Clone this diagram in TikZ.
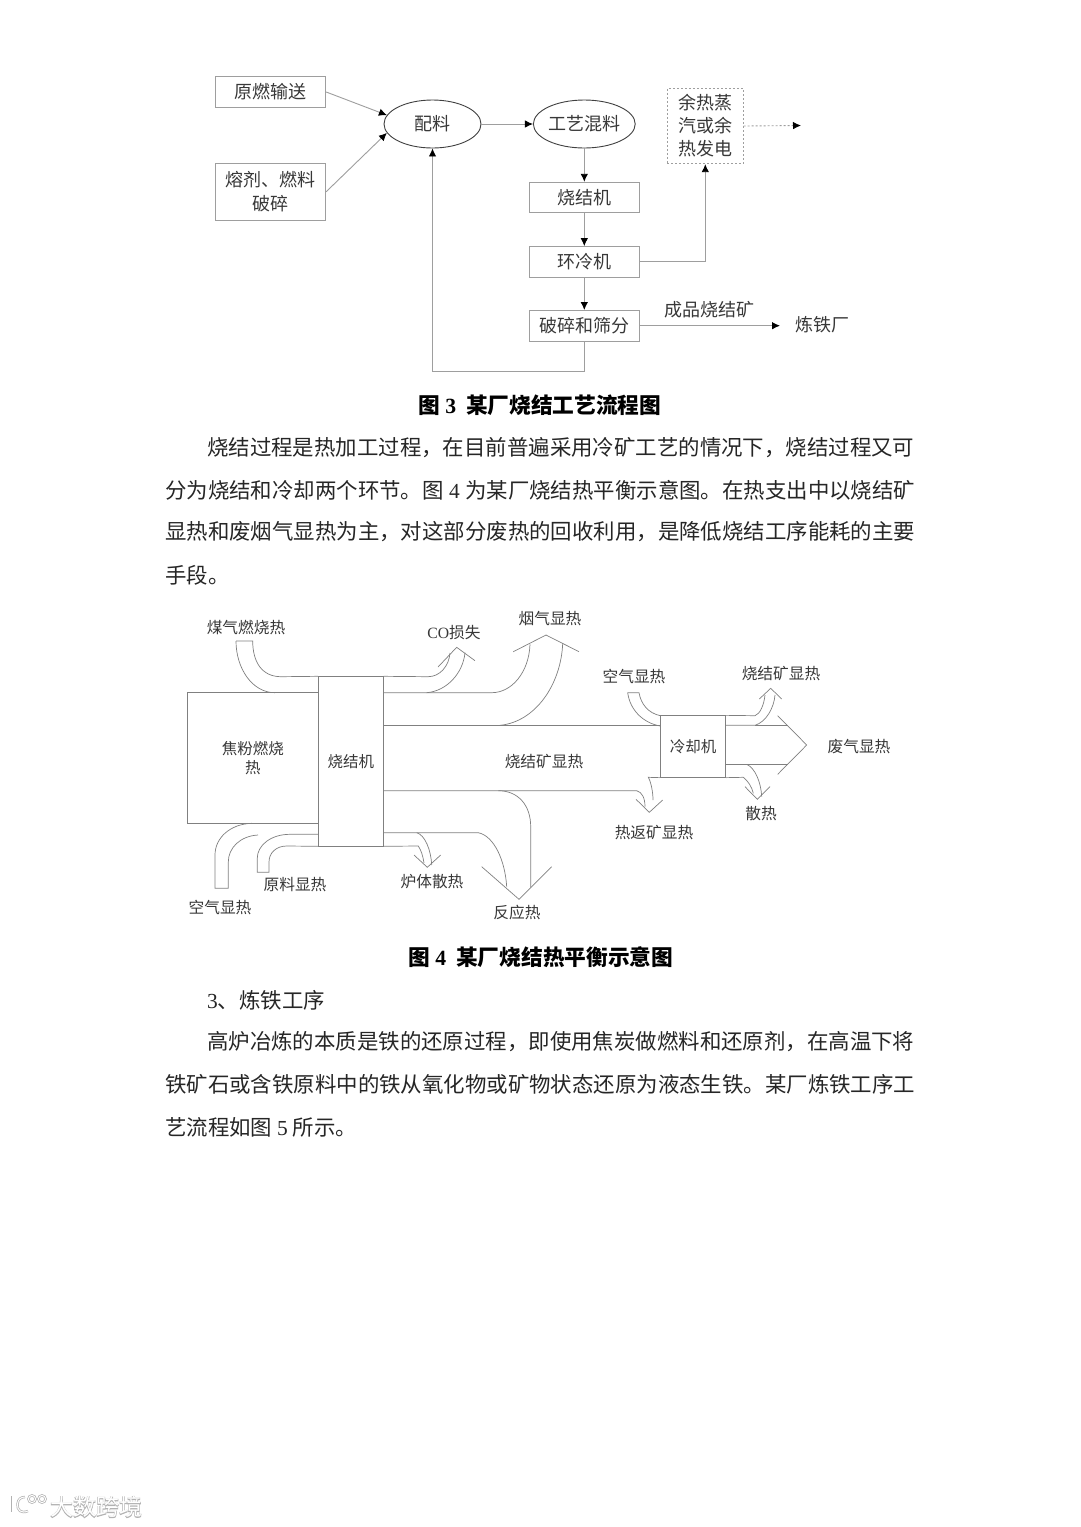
\documentclass[tikz,border=0pt]{standalone}
\usepackage{fontspec}
\usetikzlibrary{arrows.meta,shapes.geometric}
\setmainfont{Noto Sans CJK SC}
\newfontfamily\lat{Liberation Serif}
\newfontfamily\wmfat[FakeBold=4]{Noto Sans CJK SC}
\newcommand{\fsz}[1]{\fontsize{#1}{#1}\selectfont}
\definecolor{ln}{gray}{0.62}
\definecolor{lnb}{gray}{0.5}
\definecolor{tx}{gray}{0.22}
\tikzset{
  flowbox/.style={draw=ln,line width=0.9pt,inner sep=0pt,text=tx,font=\fsz{18},align=center},
  flowell/.style={ellipse,draw=black!75,line width=0.9pt,inner sep=0pt,text=tx,font=\fsz{18},minimum width=97pt,minimum height=48pt},
  dashbox/.style={flowbox,dashed,dash pattern=on 2pt off 2pt,line width=0.8pt},
  flowarr/.style={draw=ln,line width=0.9pt,-{Latex[length=8pt,width=7.5pt,black]}},
  flowlabel/.style={inner sep=0pt,text=tx,font=\fsz{18}},
  heatbox/.style={draw=lnb,line width=0.7pt,inner sep=0pt,text=tx,font=\fsz{15.5},align=center},
  heatlabel/.style={inner sep=0pt,text=tx,font=\fsz{15.7},yshift=-0.7pt},
  heat/.style={draw=lnb,line width=0.7pt},
  bodyline/.style={inner sep=0pt,anchor=west,text=black!85,font=\fsz{21.43}},
  captionline/.style={inner sep=0pt,text=black,font=\fsz{21.7}\bfseries},
  wmunder/.style={inner sep=0pt,text=black!30,font=\wmfat\fsz{23}},
  wmover/.style={inner sep=0pt,text=white,font=\fsz{23}},
  logounder/.style={draw=black!30,line width=2.4pt},
  logoover/.style={draw=white,line width=1pt},
}
\newcommand{\jline}[1]{\hbox to 750pt{#1}}
\newcommand{\logopaths}[1]{%
  \draw[#1] (12,1496) -- (12,1512);
  \draw[#1] (28,1511) .. controls (21,1514) and (17,1510) .. (17.5,1504) .. controls (18,1499) and (21,1497) .. (25,1497);
  \draw[#1] (32,1499) circle[radius=3.6];
  \draw[#1] (42,1499) circle[radius=3.6];
}
\begin{document}
\begin{tikzpicture}[x=1pt,y=-1pt]
\useasboundingbox (0,0) rectangle (1080,1527);
\fill[white] (0,0) rectangle (1080,1527);
% ---------- figure 3
\node[flowbox,minimum width=110.5pt,minimum height=30.5pt] (raw) at (270.5,92) {原燃输送};
\node[flowbox,minimum width=110.5pt,minimum height=56.5pt] (flux) at (270.5,191.7) {熔剂、燃料\\[6pt]破碎};
\node[flowell] (mix) at (432.5,124) {配料};
\node[flowell] (blend) at (584.3,124) {工艺混料};
\node[flowbox,minimum width=110pt,minimum height=30.5pt] (sinter) at (584.3,197.5) {烧结机};
\node[flowbox,minimum width=110pt,minimum height=30.5pt] (cool) at (584.3,261.8) {环冷机};
\node[flowbox,minimum width=110pt,minimum height=30.5pt] (crush) at (584.3,325.7) {破碎和筛分};
\node[dashbox,minimum width=76pt,minimum height=75.5pt] (waste) at (705.3,126) {余热蒸\\[5pt]汽或余\\[5pt]热发电};
\coordinate (wasteout) at (801,125.5);
\node[flowlabel] (iron) at (822,325) {炼铁厂};
\coordinate (ironin) at (780,325.7);
\node[flowlabel,font=\fsz{18}] (prod) at (709,310) {成品烧结矿};
\draw[flowarr] (raw.east) -- (mix.169);
\draw[flowarr] (flux.east) -- (mix.191);
\draw[flowarr] (mix.east) -- (blend.west);
\draw[flowarr] (blend.south) -- (sinter.north);
\draw[flowarr] (sinter.south) -- (cool.north);
\draw[flowarr] (cool.south) -- (crush.north);
\draw[flowarr] (cool.east) -| (waste.south);
\draw[flowarr] (crush.east) -- (ironin);
\draw[flowarr,dashed,dash pattern=on 2pt off 2pt] (waste.east) -- (wasteout);
\draw[flowarr] (crush.south) -- ++(0,30) -| (mix.south);
\node[captionline] (cap3) at (540,405) {图 {\lat 3}\ \ 某厂烧结工艺流程图};
% ---------- text 1
\node[bodyline] (p1) at (207,448) {\hbox to 708pt{烧结过程是热加工过程，在目前普遍采用冷矿工艺的情况下，烧结过程又可\hss}};
\node[bodyline] (p2) at (165,490) {\jline{分为烧结和冷却两个环节。图 {\lat 4} 为某厂烧结热平衡示意图。在热支出中以烧结矿}};
\node[bodyline] (p3) at (165,532) {\jline{显热和废烟气显热为主，对这部分废热的回收利用，是降低烧结工序能耗的主要\hss}};
\node[bodyline] (p4) at (165,575) {手段。};
% ---------- figure 4
\node[heatbox,minimum width=131pt,minimum height=130.6pt] (coke) at (252.8,758) {焦粉燃烧\\[3.5pt]热};
\node[heatbox,minimum width=65pt,minimum height=169.3pt] (smachine) at (350.8,761.3) {烧结机};
\node[heatbox,minimum width=65.4pt,minimum height=61.6pt] (cooler) at (693,746.5) {冷却机};
% gas burn inlet
\draw[heat] (236,641) -- (252.7,641) .. controls (252.7,662) and (262,676.7) .. (281,676.7) -- (smachine.north west);
\draw[heat] (236,641) .. controls (236,668) and (252,692.7) .. (275,692.7);
% CO loss
\draw[heat] (smachine.north east) -- (428,676.7) .. controls (440,676.7) and (449,666) .. (450,653);
\draw[heat] (383.3,692.7) -- (426.7,692.7) .. controls (447,691) and (463,673) .. (465,652.7);
\draw[heat] (438,667) -- (456.7,647.3) -- (475,660.7);
% flue gas
\draw[heat] (426.7,692.7) -- (491.7,692.7) .. controls (512,692.7) and (529,672) .. (530,644.3);
\draw[heat] (383.3,725.3) -- (660.3,725.3);
\draw[heat] (500,725.3) .. controls (535,722) and (561,685) .. (562.7,643.3);
\draw[heat] (513.3,651.7) -- (546,635) -- (579,651.7);
% main band bottom and hot return
\draw[heat] (383.3,790.7) -- (636.7,790.7) .. controls (642,792) and (645,798) .. (645,806.7);
\draw[heat] (cooler.south west) -- (648.3,777.3) .. controls (651,782) and (653,792) .. (653,800);
\draw[heat] (636,799.3) -- (649.3,812.3) -- (662.7,800);
% reaction heat
\draw[heat] (498.3,790.7) .. controls (518,790.7) and (530.7,805) .. (530.7,826.7) -- (530.7,887.3);
\draw[heat] (383.3,832.7) -- (478.3,832.7) .. controls (494,836) and (505,860) .. (506.7,886.7);
\draw[heat] (481.7,866.7) -- (519,899.3) -- (551.7,866.7);
% furnace
\draw[heat] (416.7,832.7) .. controls (425,835) and (431,850) .. (431.7,865);
\draw[heat] (smachine.south east) -- (418.3,846) .. controls (421,850) and (423,856) .. (424,863);
\draw[heat] (414,855) -- (427.3,867.3) -- (440.7,855);
% air left
\draw[heat] (251.7,823.3) .. controls (230,824) and (215,838) .. (215,855) -- (215,888.3) -- (228.3,888.3) -- (228.3,862) .. controls (228.3,848) and (240,836) .. (258,835);
% raw material
\draw[heat] (318.3,834.3) -- (290,834.3) .. controls (270,834.3) and (257.3,846) .. (257.3,858) -- (257.3,872.3) -- (269,872.3) -- (269,862) .. controls (269,853) and (276,846) .. (286.7,846) -- (smachine.south west);
% air to cooler
\draw[heat] (627.7,692.7) -- (639,692.7) .. controls (641,704) and (648,713) .. (660.3,715.7);
\draw[heat] (627.7,692.7) .. controls (630,710) and (643,723) .. (660.3,726);
% sinter ore heat
\draw[heat] (cooler.north east) -- (755,715.7) .. controls (760,714) and (764,705) .. (765,695);
\draw[heat] (725.7,725.3) -- (755,725.3) .. controls (766,722) and (774,708) .. (775,695);
\draw[heat] (759.3,699) -- (770.7,688.3) -- (781.7,699);
% waste gas
\draw[heat] (755,725.3) -- (788.3,725.3);
\draw[heat] (725.7,764.3) -- (788.3,764.3);
\draw[heat] (777.7,715.7) -- (806.7,745) -- (777.7,774.3);
% dissipation
\draw[heat] (746.7,764.3) .. controls (755,768) and (761,782) .. (761.7,796.7);
\draw[heat] (cooler.south east) -- (743.3,777.3) .. controls (748,781) and (752,787) .. (753.3,793.3);
\draw[heat] (745,786.7) -- (757.3,799.3) -- (770,786.7);
% labels
\node[heatlabel] (l1) at (246,627) {煤气燃烧热};
\node[heatlabel] (l2) at (454,632) {{\lat CO}损失};
\node[heatlabel] (l3) at (550,618) {烟气显热};
\node[heatlabel] (l4) at (634,676) {空气显热};
\node[heatlabel] (l5) at (781,673) {烧结矿显热};
\node[heatlabel] (l6) at (859,746) {废气显热};
\node[heatlabel] (l7) at (544,761) {烧结矿显热};
\node[heatlabel] (l8) at (654,832) {热返矿显热};
\node[heatlabel] (l9) at (761,813) {散热};
\node[heatlabel] (l10) at (517,912) {反应热};
\node[heatlabel] (l11) at (432,881) {炉体散热};
\node[heatlabel] (l12) at (295,884) {原料显热};
\node[heatlabel] (l13) at (220,907) {空气显热};
\node[captionline] (cap4) at (541,957) {图 {\lat 4}\ \ 某厂烧结热平衡示意图};
% ---------- text 2
\node[bodyline] (q0) at (207,1000) {{\lat 3}、炼铁工序};
\node[bodyline] (q1) at (207,1042) {\hbox to 708pt{高炉冶炼的本质是铁的还原过程，即使用焦炭做燃料和还原剂，在高温下将\hss}};
\node[bodyline] (q2) at (165,1084) {\jline{铁矿石或含铁原料中的铁从氧化物或矿物状态还原为液态生铁。某厂炼铁工序工\hss}};
\node[bodyline] (q3) at (165,1127) {艺流程如图 {\lat 5} 所示。};
% ---------- watermark
\logopaths{logounder}
\logopaths{logoover}
\node[wmunder] (wmshadow) at (96,1507) {大数跨境};
\node[wmover] (wm) at (96,1507) {大数跨境};
\end{tikzpicture}
\end{document}
